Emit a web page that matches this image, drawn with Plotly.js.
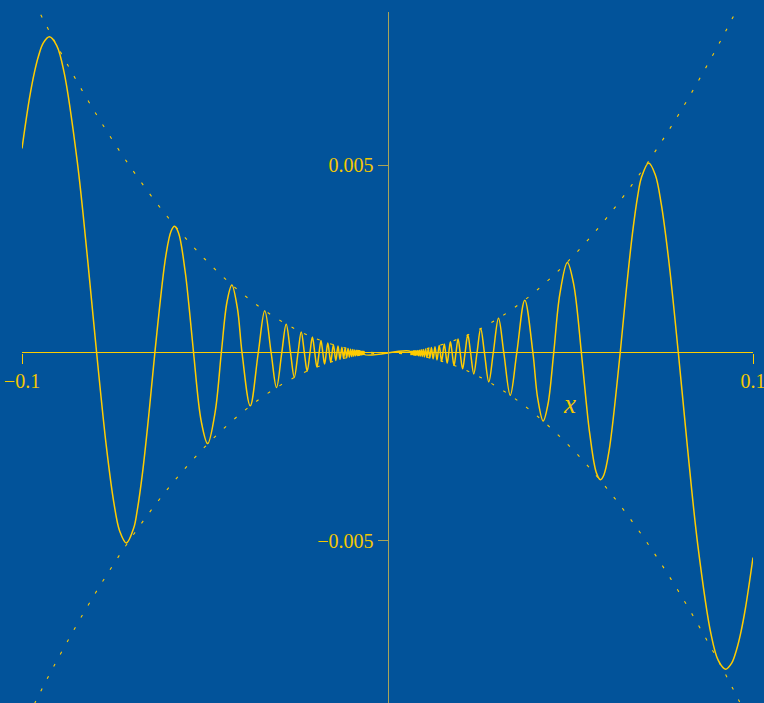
<!DOCTYPE html>
<html>
<head>
<meta charset="utf-8">
<script src="https://cdn.plot.ly/plotly-3.0.1.min.js"></script>
<style>html,body{margin:0;padding:0;background:#02539a;}#chart{width:764px;height:703px;}</style>
</head>
<body>
<div id="chart"></div>
<script>
// Curve x^2 sin(1/x), right half (x > 0)
const xRight = [0.1, 0.097941, 0.096618, 0.0955, 0.094162, 0.09249, 0.090498, 0.088496, 0.084883, 0.081967, 0.079577,
  0.076923, 0.074896, 0.07326, 0.07145, 0.069444, 0.068493, 0.067013, 0.065359, 0.063662,
  0.06063, 0.059172, 0.058265, 0.057143, 0.055359, 0.054348, 0.053052,
  0.05093, 0.049207, 0.047157, 0.045473, 0.043905, 0.042594,
  0.041072, 0.039789, 0.037554, 0.035368, 0.033582, 0.031831, 0.030371, 0.028937, 0.027722, 0.026526,
  0.025498, 0.024485, 0.023605, 0.022736, 0.021974, 0.021221, 0.020554, 0.019894, 0.019306, 0.018724,
  0.018201, 0.017684, 0.017216, 0.016753, 0.016332, 0.015915,
  0.015527, 0.014805, 0.014147, 0.013545, 0.012992, 0.012483, 0.012012, 0.011575, 0.011169, 0.01079,
  0.010436, 0.010105, 0.0097941, 0.0095018, 0.0092264, 0.0089665, 0.0087208, 0.0084883, 0.0082678, 0.0080585,
  0.0078595, 0.00767, 0.0074897, 0.0073175, 0.007153, 0.0069958, 0.0068454, 0.0067013, 0.0065631, 0.0064305,
  0.0063032, 0];
const yRight = [-0.00544, -0.006783, -0.007458, -0.007893, -0.008249, -0.008411, -0.008178, -0.007472, -0.005095, -0.002409, 0,
  0.002486, 0.003966, 0.004743, 0.005054, 0.004657, 0.004199, 0.003175, 0.001697, 0,
  -0.002599, -0.003253, -0.003372, -0.003186, -0.002167, -0.001285, 0,
  0.001834, 0.00241, 0.001572, 0, -0.001363, -0.001808,
  -0.001193, 0, 0.001406, 0, -0.001125, 0, 0.000921, 0, -0.000767, 0,
  0.000649, 0, -0.000557, 0, 0.000483, 0, -0.000422, 0, 0.000373, 0,
  -0.000331, 0, 0.000296, 0, -0.000267, 0,
  0.0002411, -0.00021919, 0.00020014, -0.00018347, 0.0001688, -0.00015582, 0.00014429, -0.00013398, 0.00012474, -0.00011643,
  0.00010891, -0.00010211, 0.000095924, -0.000090284, 0.000085126, -0.000080398, 0.000076052, -0.000072051, 0.000068357, -0.000064939,
  0.000061772, -0.000058829, 0.000056095, -0.000053546, 0.000051165, -0.000048941, 0.00004686, -0.000044907, 0.000043074, -0.000041351,
  0.00003973, 0];
// Left half (x < 0)
const xLeft = [-0.1, -0.097941, -0.096618, -0.0955, -0.094162, -0.09249, -0.090498, -0.088496, -0.084883, -0.081967, -0.079577,
  -0.076923, -0.074896, -0.07326, -0.07145, -0.069444, -0.068493, -0.067013, -0.065359, -0.063662,
  -0.06063, -0.059172, -0.058265, -0.057143, -0.055359, -0.054348, -0.053052,
  -0.05093, -0.049207, -0.047157, -0.045473, -0.043905, -0.042594,
  -0.041072, -0.039789, -0.037554, -0.035368, -0.033582, -0.031831, -0.030371, -0.028937, -0.027722, -0.026526,
  -0.025498, -0.024485, -0.023605, -0.022736, -0.021974, -0.021221, -0.020554, -0.019894, -0.019306, -0.018724,
  -0.018201, -0.017684, -0.017216, -0.016753, -0.016332, -0.015915,
  -0.015527, -0.014805, -0.014147, -0.013545, -0.012992, -0.012483, -0.012012, -0.011575, -0.011169, -0.01079,
  -0.010436, -0.010105, -0.0097941, -0.0095018, -0.0092264, -0.0089665, -0.0087208, -0.0084883, -0.0082678, -0.0080585,
  -0.0078595, -0.00767, -0.0074897, -0.0073175, -0.007153, -0.0069958, -0.0068454, -0.0067013, -0.0065631, -0.0064305,
  -0.0063032, 0];
const yLeft = [0.00544, 0.006783, 0.007458, 0.007893, 0.008249, 0.008411, 0.008178, 0.007472, 0.005095, 0.002409, 0,
  -0.002486, -0.003966, -0.004743, -0.005054, -0.004657, -0.004199, -0.003175, -0.001697, 0,
  0.002599, 0.003253, 0.003372, 0.003186, 0.002167, 0.001285, 0,
  -0.001834, -0.00241, -0.001572, 0, 0.001363, 0.001808,
  0.001193, 0, -0.001406, 0, 0.001125, 0, -0.000921, 0, 0.000767, 0,
  -0.000649, 0, 0.000557, 0, -0.000483, 0, 0.000422, 0, -0.000373, 0,
  0.000331, 0, -0.000296, 0, 0.000267, 0,
  -0.0002411, 0.00021919, -0.00020014, 0.00018347, -0.0001688, 0.00015582, -0.00014429, 0.00013398, -0.00012474, 0.00011643,
  -0.00010891, 0.00010211, -0.000095924, 0.000090284, -0.000085126, 0.000080398, -0.000076052, 0.000072051, -0.000068357, 0.000064939,
  -0.000061772, 0.000058829, -0.000056095, 0.000053546, -0.000051165, 0.000048941, -0.00004686, 0.000044907, -0.000043074, 0.000041351,
  -0.00003973, 0];
// Envelopes +x^2 and -x^2
const xEnv = [-0.1, -0.095, -0.09, -0.08, -0.07, -0.06, -0.05, -0.04, -0.03, -0.02, -0.01, 0,
  0.01, 0.02, 0.03, 0.04, 0.05, 0.06, 0.07, 0.08, 0.09, 0.095, 0.1];
const yEnvUpper = [0.01, 0.009025, 0.0081, 0.0064, 0.0049, 0.0036, 0.0025, 0.0016, 0.0009, 0.0004, 0.0001, 0,
  0.0001, 0.0004, 0.0009, 0.0016, 0.0025, 0.0036, 0.0049, 0.0064, 0.0081, 0.009025, 0.01];
const yEnvLower = [-0.01, -0.009025, -0.0081, -0.0064, -0.0049, -0.0036, -0.0025, -0.0016, -0.0009, -0.0004, -0.0001, 0,
  -0.0001, -0.0004, -0.0009, -0.0016, -0.0025, -0.0036, -0.0049, -0.0064, -0.0081, -0.009025, -0.01];
const xTickVals = [-0.1, 0.1];
const xTickText = ['\u22120.1', '0.1'];
const yTickVals = [-0.005, 0.005];
const yTickText = ['\u22120.005', '0.005'];

const YEL = '#ffcc00';
const envStyle = {color: YEL, width: 1.1, dash: '3px,11px', shape: 'spline'};
const curveStyle = {color: YEL, width: 1.5, shape: 'spline', smoothing: 1};
const data = [
  {x: xEnv, y: yEnvUpper, mode: 'lines', line: envStyle, hoverinfo: 'skip'},
  {x: xEnv, y: yEnvLower, mode: 'lines', line: envStyle, hoverinfo: 'skip'},
  {x: xLeft, y: yLeft, mode: 'lines', line: curveStyle},
  {x: xRight, y: yRight, mode: 'lines', line: curveStyle}
];
const tickFont = {family: '"Liberation Serif", "DejaVu Serif", serif', size: 20, color: '#f5c800'};
const layout = {
  width: 764, height: 703,
  paper_bgcolor: '#02539a', plot_bgcolor: '#02539a',
  showlegend: false,
  margin: {l: 22, r: 11, t: 12, b: 0},
  xaxis: {
    range: [-0.1, 0.1], anchor: 'free', position: 0.50653,
    showgrid: false, zeroline: false, showline: false,
    ticks: 'outside', ticklen: 10, tickcolor: '#ffcc00', tickwidth: 1,
    tickvals: xTickVals, ticktext: xTickText, tickfont: tickFont, automargin: false,
    ticklabeloverflow: 'allow'
  },
  yaxis: {
    range: [-0.00931, 0.00907], anchor: 'free', position: 0.5,
    showgrid: false, zeroline: true, zerolinecolor: '#ffcc00', zerolinewidth: 1,
    showline: true, linecolor: '#a8a458', linewidth: 1,
    ticks: 'outside', ticklen: 10, tickcolor: '#a8a458', tickwidth: 1,
    tickvals: yTickVals, ticktext: yTickText, tickfont: tickFont, automargin: false,
    ticklabeloverflow: 'allow', layer: 'above traces'
  },
  annotations: [{
    x: 0.0498, y: -0.00137, xref: 'x', yref: 'y', showarrow: false,
    text: '<i>x</i>', font: {family: '"Liberation Serif", "DejaVu Serif", serif', size: 27, color: '#f5c800'}
  }]
};
Plotly.newPlot('chart', data, layout, {displayModeBar: false, staticPlot: true});
</script>
</body>
</html>
